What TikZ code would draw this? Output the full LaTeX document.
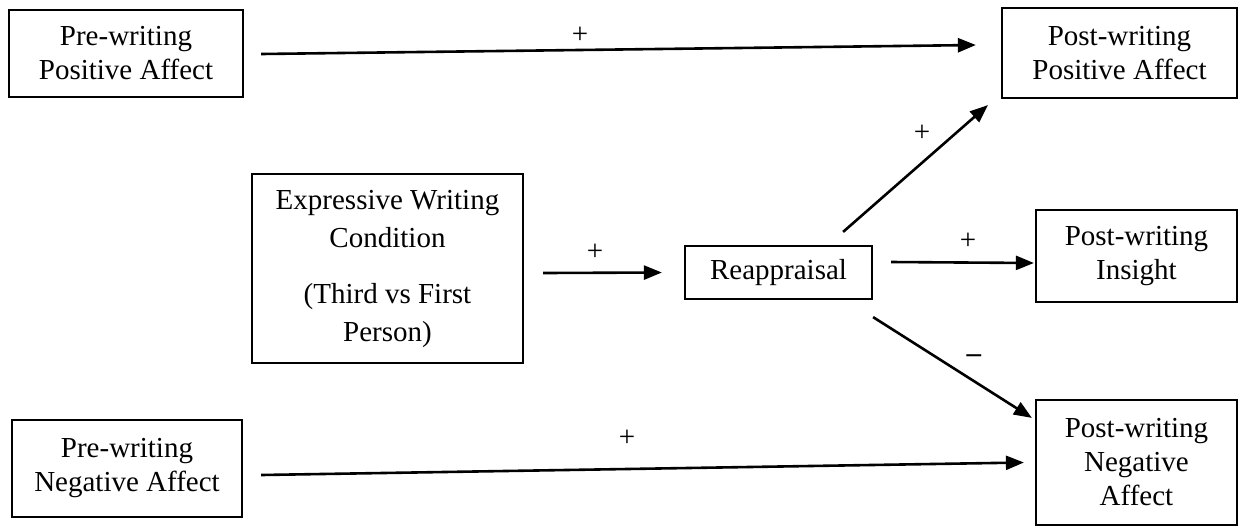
\documentclass[tikz,border=0pt]{standalone}
\usepackage{fontspec}
\setmainfont{Liberation Serif}
\usetikzlibrary{arrows.meta}

\begin{document}
\begin{tikzpicture}[
    x=0.5pt, y=-0.5pt,
    box/.style={
      draw, line width=1.1pt,
      align=center, inner sep=0pt,
      font=\fontsize{14.5}{17}\selectfont,
    },
    link/.style={line width=1.3pt, -{Triangle[length=9pt,width=7pt]}},
    sign/.style={inner sep=0pt, font=\fontsize{14.5}{17}\selectfont},
  ]
  \useasboundingbox (0,0) rectangle (1239,527);
  \node[box, minimum width=117pt, minimum height=43.5pt] (prePos) at (126,53.5) {Pre-writing\\Positive Affect};
  \node[box, minimum width=115pt, minimum height=48.5pt] (preNeg) at (127,468.5) {Pre-writing\\Negative Affect};
  \node[box, minimum width=135.5pt, minimum height=94.5pt, font=\fontsize{14.5}{19}\selectfont] (cond) at (387.5,268.5) {Expressive Writing\\Condition\\[9pt](Third vs First\\Person)};
  \node[box, minimum width=93.5pt, minimum height=26.5pt] (reapp) at (778.5,272.5) {Reappraisal};
  \node[box, minimum width=117.5pt, minimum height=45pt] (postPos) at (1119.5,53) {Post-writing\\Positive Affect};
  \node[box, minimum width=100.5pt, minimum height=46pt] (postIns) at (1136.5,256) {Post-writing\\Insight};
  \node[box, minimum width=100.5pt, minimum height=62.5pt] (postNeg) at (1136.5,462.5) {Post-writing\\Negative\\Affect};

  \draw[link] ([shift={(17,0.5)}]prePos.east) -- ([shift={(-25,-8)}]postPos.west);
  \draw[link] ([shift={(18,6.5)}]preNeg.east) -- ([shift={(-11,0)}]postNeg.west);
  \draw[link] ([shift={(19,4.5)}]cond.east) -- ([shift={(-22,0)}]reapp.west);
  \draw[link] ([shift={(-30,-13)}]reapp.north east) -- ([shift={(-13,6)}]postPos.south west);
  \draw[link] ([shift={(18,-10.5)}]reapp.east) -- ([shift={(-1,7)}]postIns.west);
  \draw[link] ([shift={(0,17)}]reapp.south east) -- ([shift={(-3,19)}]postNeg.north west);

  \node[sign] (s1) at (580,35) {+};
  \node[sign] (s2) at (627,438) {+};
  \node[sign] (s3) at (595,252) {+};
  \node[sign] (s4) at (922,133) {+};
  \node[sign] (s5) at (968,241) {+};
  \node[sign] (s6) at (974,359) {\textbf{--}};
\end{tikzpicture}
\end{document}
